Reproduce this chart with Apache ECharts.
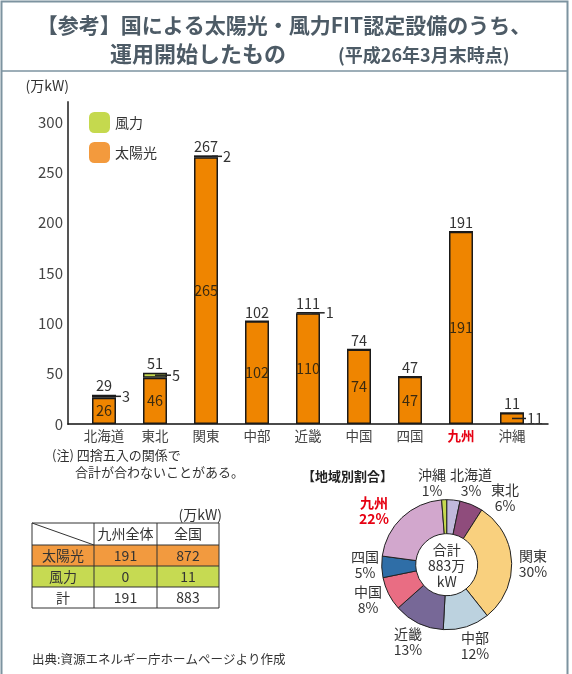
<!DOCTYPE html>
<html><head><meta charset="utf-8">
<script src="https://cdn.jsdelivr.net/npm/echarts@6/dist/echarts.min.js"></script>
<style>html,body{margin:0;padding:0;background:#fff}#c{width:572px;height:674px}</style>
</head><body><div id="c"></div>
<script>
// ---- data ----
const categories = ['北海道','東北','関東','中部','近畿','中国','四国','九州','沖縄'];
const solar = [26,46,265,102,110,74,47,191,11];
const wind = [3,5,2,0,1,0,0,0,0];
const totals = [29,51,267,102,111,74,47,191,11];
const yTicks = [0,50,100,150,200,250,300];
const tableCols = ['九州全体','全国'];
const tableRows = ['太陽光','風力','計'];
const kyushuValues = [191,0,191];
const nationalValues = [872,11,883];

// ---- styles / layout ----
const FONT = '"Noto Sans CJK JP", "Noto Sans", sans-serif';
const C_SOLAR = '#ef8500', C_WIND = '#c5d94e', C_SOLAR_LEG = '#f39a3d';
const pieColors = ['#c0b9dc','#8f4c7c','#f9d07e','#bcd2df','#776897','#e96d83','#2f6ea7','#d2a7cd','#c5d94e'];
const pieLabelPos = [[471,483],[505,498],[533,564],[475,646],[408,642],[368,600],[365,565],[374,511],[432,483]];
const windSide = {0:['100%',5],1:['50%',16],2:['75%',10],4:['65%',13]};
const solarSide = {8:['50%',14]};

function sideLabel(pos, val){
  return {show:true, position:[pos[0],'50%'], align:'left', verticalAlign:'middle',
    formatter:'{ln|}{v|'+val+'}',
    rich:{ln:{width:pos[1],height:1.5,backgroundColor:'#222'},
          v:{fontSize:14.5,color:'#333',fontFamily:FONT,padding:[0,0,0,1]}}};
}

const solarData = solar.map((v,i)=>({value:v,
  label: solarSide[i] ? sideLabel(solarSide[i], v) : {show:true, position:'inside'}}));
const windData = wind.map((v,i)=>({value:v,
  label: windSide[i] ? sideLabel(windSide[i], v) : {show:false}}));

const chart = echarts.init(document.getElementById('c'), null, {renderer:'canvas'});

// table graphics
const gx = [32,94,157,219], gy = [523,545,566,587,608];
const rowFill = ['#ffffff','#f29a3f','#c6da52','#ffffff'];
const tableEls = [];
for (let r=0;r<4;r++){
  tableEls.push({type:'rect', shape:{x:gx[0],y:gy[r],width:gx[3]-gx[0],height:gy[r+1]-gy[r]}, style:{fill:rowFill[r],stroke:null}});
}
for (let r=0;r<5;r++) tableEls.push({type:'line',shape:{x1:gx[0],y1:gy[r],x2:gx[3],y2:gy[r]},style:{stroke:'#333',lineWidth:1}});
for (let c=0;c<4;c++) tableEls.push({type:'line',shape:{x1:gx[c],y1:gy[0],x2:gx[c],y2:gy[4]},style:{stroke:'#333',lineWidth:1}});
tableEls.push({type:'line',shape:{x1:gx[0],y1:gy[0],x2:gx[1],y2:gy[1]},style:{stroke:'#333',lineWidth:1}});
function cellText(txt,c,r){
  return {type:'text', x:(gx[c]+gx[c+1])/2, y:(gy[r]+gy[r+1])/2,
    style:{text:String(txt),fontSize:14,fontFamily:FONT,fill:'#333',align:'center',verticalAlign:'middle'}};
}
tableCols.forEach((t,i)=>tableEls.push(cellText(t,i+1,0)));
tableRows.forEach((t,i)=>{
  tableEls.push(cellText(t,0,i+1));
  tableEls.push(cellText(kyushuValues[i],1,i+1));
  tableEls.push(cellText(nationalValues[i],2,i+1));
});

const totalSum = totals.reduce((a,b)=>a+b,0);

const option = {
  backgroundColor:'#fff',
  animation:false,
  textStyle:{fontFamily:FONT},
  legend:{
    left:84, top:107, orient:'vertical', itemWidth:21, itemHeight:21, itemGap:9,
    textStyle:{fontSize:14,color:'#333',fontFamily:FONT},
    data:[{name:'風力',itemStyle:{color:C_WIND,borderWidth:0}},{name:'太陽光',itemStyle:{color:C_SOLAR_LEG,borderWidth:0}}]
  },
  grid:[
    {left:78.5, width:459, top:102, bottom:250},
    {left:68, width:480, top:102, bottom:250}
  ],
  xAxis:[
    {type:'category', gridIndex:0, data:categories,
     axisLine:{show:false}, axisTick:{show:false},
     axisLabel:{interval:0, fontSize:13.5,color:'#444',margin:5,fontFamily:FONT,
       formatter:v=> v==='九州' ? '{r|'+v+'}' : v,
       rich:{r:{color:'#e60012',fontWeight:'bold',fontSize:13.5,fontFamily:FONT}}}},
    {type:'value', gridIndex:1, min:0, max:1, axisLabel:{show:false}, axisTick:{show:false}, splitLine:{show:false},
     axisLine:{show:true,lineStyle:{color:'#111',width:1.5}}}
  ],
  yAxis:[
    {type:'value', gridIndex:0, min:0, max:320, show:false},
    {type:'value', gridIndex:1, min:0, max:320, interval:50,
     axisLine:{show:true,lineStyle:{color:'#555',width:2}}, axisTick:{show:false}, splitLine:{show:false},
     axisLabel:{fontSize:15,color:'#444',margin:5,fontFamily:FONT,showMaxLabel:false,
       formatter:v=> yTicks.indexOf(v)>=0 ? String(v) : ''},
     name:'(万kW)', nameLocation:'end', nameGap:9,
     nameTextStyle:{fontSize:14,color:'#333',align:'right',fontFamily:FONT,padding:[0,-1,0,0]}}
  ],
  series:[
    {name:'太陽光', type:'bar', stack:'a', xAxisIndex:0, yAxisIndex:0, barWidth:24, barGap:'-100%',
     itemStyle:{color:C_SOLAR,borderColor:'#1a1a1a',borderWidth:1.5},
     label:{fontSize:14.5,color:'#3a2a10',fontFamily:FONT},
     data:solarData, z:2},
    {name:'風力', type:'bar', stack:'a', xAxisIndex:0, yAxisIndex:0, barWidth:24, barGap:'-100%',
     itemStyle:{color:C_WIND,borderColor:'#1a1a1a',borderWidth:1.5},
     data:windData, z:3},
    {name:'合計', type:'bar', xAxisIndex:0, yAxisIndex:0, barWidth:24, barGap:'-100%', silent:true,
     itemStyle:{color:'rgba(0,0,0,0)',borderWidth:0},
     label:{show:true,position:'top',distance:2,fontSize:14.5,color:'#333',fontFamily:FONT},
     data:totals, z:1},
    {name:'地域別割合', type:'pie', center:[446.7,564.7], radius:[31,65], startAngle:90, clockwise:true,
     avoidLabelOverlap:false, silent:true,
     itemStyle:{borderColor:'#222',borderWidth:1},
     label:{show:true, position:'outside', fontSize:14, lineHeight:16, color:'#333', fontFamily:FONT,
       formatter:p=> p.name+'\n'+Math.round(p.value/totalSum*100)+'%'},
     labelLine:{show:false},
     labelLayout:p=>({x:pieLabelPos[p.dataIndex][0], y:pieLabelPos[p.dataIndex][1], align:'center', verticalAlign:'middle'}),
     data:categories.map((n,i)=>({name:n,value:totals[i],itemStyle:{color:pieColors[i]},
       label: n==='九州' ? {color:'#e60012',fontWeight:'bold'} : undefined}))}
  ],
  graphic:[
    {type:'rect', shape:{x:1.5,y:1.5,width:566,height:720}, style:{fill:null,stroke:'#7d93a0',lineWidth:2}, z:100},
    {type:'line', shape:{x1:1.5,y1:71,x2:567.5,y2:71}, style:{stroke:'#7d93a0',lineWidth:1.5}, z:100},
    {type:'text', x:284, y:25, style:{text:'【参考】国による太陽光・風力FIT認定設備のうち、',fontSize:21,fontWeight:'bold',fontFamily:FONT,fill:'#4d5b66',align:'center',verticalAlign:'middle'}},
    {type:'text', x:110, y:54, style:{text:'運用開始したもの',fontSize:22,fontWeight:'bold',fontFamily:FONT,fill:'#4d5b66',align:'left',verticalAlign:'middle'}},
    {type:'text', x:338, y:55, style:{text:'(平成26年3月末時点)',fontSize:18,fontWeight:'bold',fontFamily:FONT,fill:'#4d5b66',align:'left',verticalAlign:'middle'}},
    {type:'text', x:52, y:455, style:{text:'(注) 四捨五入の関係で',fontSize:13,fontFamily:FONT,fill:'#333',verticalAlign:'middle'}},
    {type:'text', x:75, y:472, style:{text:'合計が合わないことがある。',fontSize:13,fontFamily:FONT,fill:'#333',verticalAlign:'middle'}},
    {type:'text', x:222, y:515, style:{text:'(万kW)',fontSize:14,fontFamily:FONT,fill:'#333',align:'right',verticalAlign:'middle'}},
    {type:'text', x:32, y:659, style:{text:'出典:資源エネルギー庁ホームページより作成',fontSize:12.5,fontFamily:FONT,fill:'#333',verticalAlign:'middle'}},
    {type:'text', x:302, y:476, style:{text:'【地域別割合】',fontSize:13,fontWeight:'bold',fontFamily:FONT,fill:'#222',verticalAlign:'middle'}},
    {type:'text', x:446.7, y:566, style:{text:'合計\n'+totalSum+'万\nkW',fontSize:14,lineHeight:16,fontFamily:FONT,fill:'#333',align:'center',verticalAlign:'middle'}}
  ].concat(tableEls)
};
chart.setOption(option);
</script></body></html>
